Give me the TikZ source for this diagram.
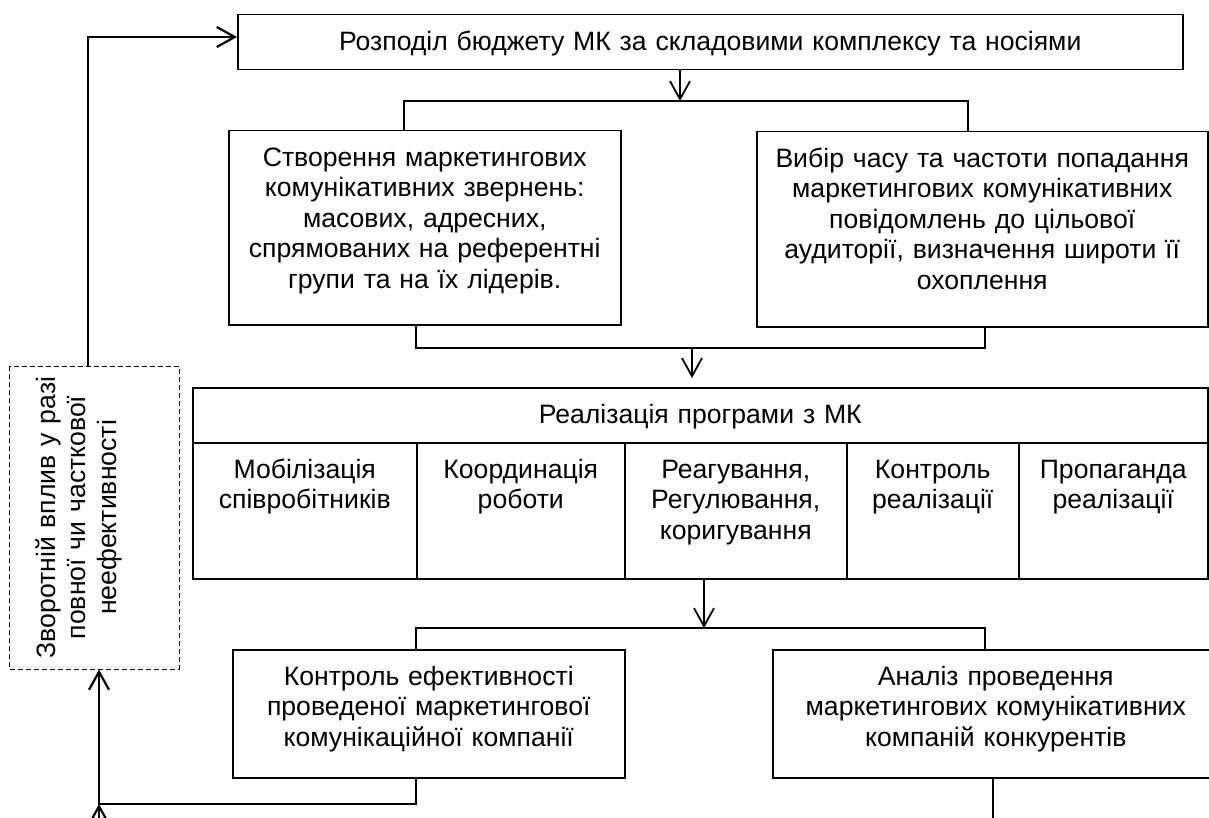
\documentclass[tikz,border=0pt]{standalone}
\usepackage{fontspec}
\setmainfont{Liberation Sans}
\usetikzlibrary{arrows.meta,calc}
\newcommand{\boxfont}{\fontsize{13.3}{15.25}\selectfont}
\tikzset{
  box/.style={draw, line width=0.75pt, inner sep=0pt, anchor=north west, align=center, text height=17.75pt, font=\boxfont},
  fbbox/.style={draw, line width=0.5pt, dash pattern=on 2.5pt off 1.5pt, inner sep=0pt, align=center, font=\boxfont},
  link/.style={line width=0.9pt},
  back/.style={line width=1.1pt},
  >={Straight Barb[length=9pt,width=10pt]},
}

\begin{document}
\begin{tikzpicture}[x=0.5pt,y=-0.5pt]
  \useasboundingbox (0,0) rectangle (1209,818);

  \node[box, text width=472.5pt, text depth=9.75pt] (budget) at (237,14) {Розподіл бюджету МК за складовими комплексу та носіями};
  \node[box, text width=196pt, text depth=79.25pt] (create) at (228,130) {Створення маркетингових\\комунікативних звернень:\\масових, адресних,\\спрямованих на референтні\\групи та на їх лідерів.};
  \node[box, text width=225.5pt, text depth=79.75pt] (timing) at (756,131) {Вибір часу та частоти попадання\\маркетингових комунікативних\\повідомлень до цільової\\аудиторії, визначення широти її\\охоплення};

  \node[box, text width=507.5pt, text depth=9.75pt] (title) at (192,387) {Реалізація програми з МК};
  \node[box, text width=112pt, text depth=50.25pt] (mob) at (192,442) {Мобілізація\\співробітників};
  \node[box, text width=104pt, text depth=50.25pt] (coord) at (416,442) {Координація\\роботи};
  \node[box, text width=111pt, text depth=50.25pt] (react) at (624,442) {Реагування,\\Регулювання,\\коригування};
  \node[box, text width=86pt, text depth=50.25pt] (ctrlr) at (846,442) {Контроль\\реалізації};
  \node[box, text width=94.5pt, text depth=50.25pt] (prop) at (1018,442) {Пропаганда\\реалізації};

  \node[box, text width=196pt, text depth=46.25pt] (ctrl) at (232,649) {Контроль ефективності\\проведеної маркетингової\\комунікаційної компанії};
  \node[box, text width=223pt, text depth=46.25pt] (anal) at (772,649) {Аналіз проведення\\маркетингових комунікативних\\компаній конкурентів};

  \node[fbbox, rotate=90, text width=151.5pt, text height=23pt, text depth=62pt] (fb) at (94,517.5) {Зворотній вплив у разі\\повної чи часткової\\неефективності};

  \coordinate (j1) at (680,101);
  \coordinate (j1l) at (404,101);
  \coordinate (j1r) at (968,101);
  \coordinate (j2) at (692,348);
  \coordinate (j2l) at (416,348);
  \coordinate (j2r) at (985,348);
  \coordinate (j3) at (704,628);
  \coordinate (j3l) at (416,628);
  \coordinate (j3r) at (985,628);
  \coordinate (fbtop) at (88,37);
  \coordinate (backr) at (416,804);
  \coordinate (backl) at (99,804);
  \coordinate (backin) at (99,850);
  \coordinate (analout) at (993,850);

  \draw[link,->] (budget.south -| j1) -- (j1);
  \draw[link] (create.north -| j1l) -- (j1l) -- (j1r) -- (timing.north -| j1r);
  \draw[link] (create.south -| j2l) -- (j2l) -- (j2r) -- (timing.south -| j2r);
  \draw[link,->,shorten >=4.5pt] (j2) -- (title.north -| j2);
  \draw[link,->] (react.south -| j3) -- (j3);
  \draw[link] (ctrl.north -| j3l) -- (j3l) -- (j3r) -- (anal.north -| j3r);
  \draw[link] (anal.south -| analout) -- (analout);

  \draw[back,->] (fb.east -| fbtop) -- (fbtop) -- (budget.west |- fbtop);
  \draw[back,->] (ctrl.south -| backr) -- (backr) -- (backl) -- (fb.west -| backl);
  \draw[back,->] (backin) -- (backl);
\end{tikzpicture}
\end{document}
